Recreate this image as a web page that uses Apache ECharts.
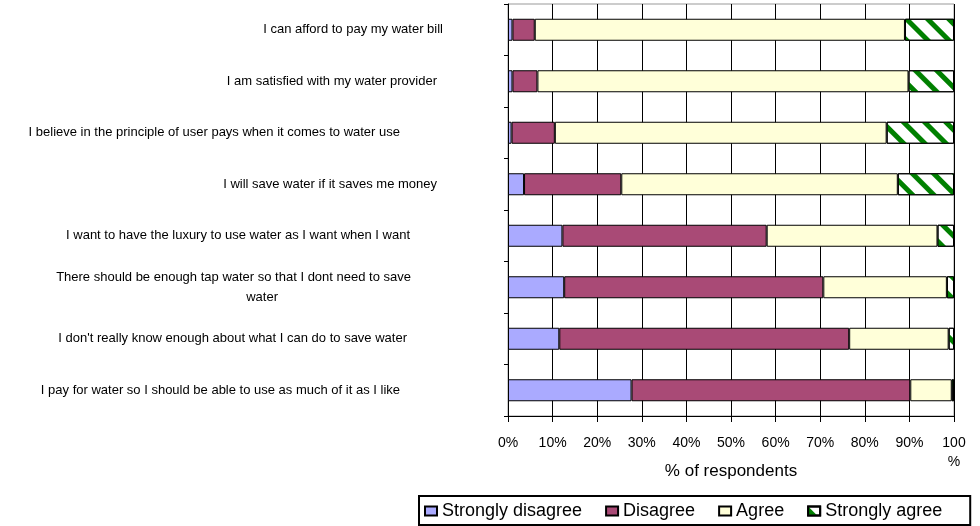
<!DOCTYPE html>
<html lang="en">
<head>
    <meta charset="UTF-8">
    <title>Water attitudes</title>
    <script src="https://cdn.jsdelivr.net/npm/echarts/dist/echarts.min.js"></script>
    <style>
        html, body { margin: 0; padding: 0; background: #fff; }
    </style>
</head>
<body>
<div id="main" style="width: 980px; height: 526px;"></div>
<script type="text/javascript">
    // statements, top to bottom
    var statements = [
        'I can afford to pay my water bill',
        'I am satisfied with my water provider',
        'I believe in the principle of user pays when it comes to water use',
        'I will save water if it saves me money',
        'I want to have the luxury to use water as I want when I want',
        'There should be enough tap water so that I dont need to save\nwater',
        "I don't really know enough about what I can do to save water",
        'I pay for water so I should be able to use as much of it as I like'
    ];
    var seriesNames = ['Strongly disagree', 'Disagree', 'Agree', 'Strongly agree'];
    // % of respondents
    var stronglyDisagree = [1, 1, 0.8, 3.6, 12.2, 12.6, 11.5, 27.7];
    var disagree = [5, 5.6, 9.7, 21.8, 45.8, 58.1, 65, 62.5];
    var agree = [83, 83.2, 74.4, 62, 38.3, 27.7, 22.3, 9.3];
    var stronglyAgree = [11, 10.2, 15.1, 12.6, 3.7, 1.6, 1.2, 0.5];
    var xTicks = [0, 10, 20, 30, 40, 50, 60, 70, 80, 90, 100];

    // label right edge shift per row (layout only)
    var labelShift = [0, 6, 43, 6, 33, 32, 36, 43];

    var font = 'Arial, "Liberation Sans", sans-serif';
    var chart = echarts.init(document.getElementById('main'));

    function bar(name, values, color, decal) {
        var style = { color: color, borderColor: '#000', borderWidth: 1 };
        if (decal) style.decal = decal;
        return {
            name: name,
            type: 'bar',
            stack: 'total',
            barWidth: 22,
            data: values,
            itemStyle: style,
            emphasis: { disabled: true }
        };
    }

    var stripes = {
        symbol: 'rect',
        symbolSize: 1,
        dashArrayX: [1, 0],
        dashArrayY: [5, 10],
        rotation: Math.PI / 4,
        color: '#008000'
    };

    chart.setOption({
        animation: false,
        textStyle: { fontFamily: font },
        grid: {
            left: 508, right: 26, top: 4, bottom: 110,
            show: true, borderColor: '#999', borderWidth: 1,
            outerBoundsMode: 'none'
        },
        legend: {
            left: 419, top: 496,
            orient: 'horizontal',
            padding: [6, 28, 5, 5],
            borderColor: '#000', borderWidth: 2,
            itemWidth: 12, itemHeight: 9, itemGap: 23,
            icon: 'rect',
            textStyle: { fontSize: 18, color: '#000', fontFamily: font },
            data: seriesNames
        },
        xAxis: {
            type: 'value',
            min: 0, max: 100, interval: 10,
            name: '% of respondents',
            nameLocation: 'middle',
            nameGap: 47,
            nameMoveOverlap: false,
            nameTextStyle: { fontSize: 17, color: '#000', fontFamily: font },
            axisLine: { show: true, lineStyle: { color: '#000', width: 1 } },
            axisTick: { show: true, length: 6, lineStyle: { color: '#000' } },
            axisLabel: {
                margin: 18, fontSize: 14, color: '#000', lineHeight: 19,
                formatter: function (v) { return v === xTicks[xTicks.length - 1] ? '100\n%' : v + '%'; }
            },
            splitLine: { show: true, lineStyle: { color: '#000', width: 1 } }
        },
        yAxis: {
            type: 'category',
            inverse: true,
            data: statements.map(function (s, i) {
                return { value: s, textStyle: { padding: [0, labelShift[i], 0, 0] } };
            }),
            axisLine: { show: true, lineStyle: { color: '#000', width: 1 } },
            axisTick: { show: true, length: 4, lineStyle: { color: '#000' } },
            axisLabel: {
                margin: 65, fontSize: 13, color: '#000', lineHeight: 20,
                interval: 0,
                formatter: function (v) {
                    var parts = v.split('\n');
                    if (parts.length > 1) return parts[0] + '\n{w|' + parts[1] + '}';
                    return v;
                },
                rich: { w: { fontSize: 13, color: '#000', padding: [0, 133, 0, 0], fontFamily: font } }
            },
            splitLine: { show: false }
        },
        series: [
            bar(seriesNames[0], stronglyDisagree, '#AAAAFF'),
            bar(seriesNames[1], disagree, '#A94A76'),
            bar(seriesNames[2], agree, '#FFFFD9'),
            bar(seriesNames[3], stronglyAgree, '#FFFFFF', stripes)
        ]
    });
</script>
</body>
</html>
